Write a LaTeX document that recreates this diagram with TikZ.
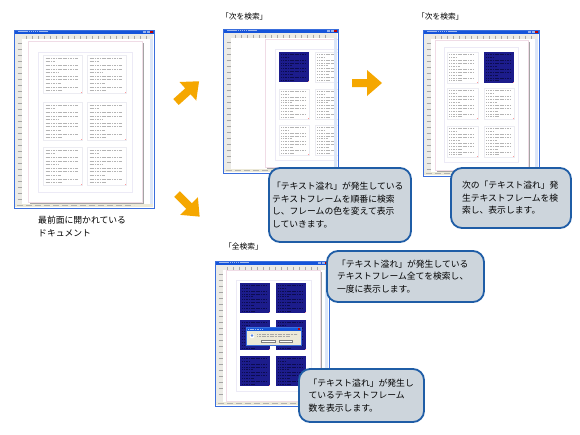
\documentclass[tikz,border=0pt]{standalone}
\usepackage{fontspec}
\setmainfont{Noto Sans CJK JP}
\usetikzlibrary{calc}
\definecolor{arroworange}{HTML}{F5A700}
\definecolor{calfill}{HTML}{CDD5DC}
\definecolor{calborder}{HTML}{1F5DA6}
\definecolor{navyfr}{HTML}{1C1C8C}
\definecolor{navytext}{HTML}{0C0C50}
\definecolor{titlebar}{HTML}{1554DA}
\definecolor{winframe}{HTML}{3A6EDC}
\definecolor{rulerbg}{HTML}{ECEBE6}
\definecolor{statusbg}{HTML}{ECE9D8}
\definecolor{scrollbg}{HTML}{DCE6F8}
\definecolor{textgray}{HTML}{B4B4B4}
\definecolor{framegray}{HTML}{ECECF2}
\definecolor{marginlav}{HTML}{ECEAF6}
\definecolor{pageborder}{HTML}{F0DCE6}
\definecolor{pageshadow}{HTML}{A4A4A4}

\tikzset{
  callout/.style={draw=calborder, line width=1.8pt, fill=calfill, rounded corners=11pt,
    inner xsep=0pt, inner ysep=0pt, align=left, font=\fontsize{8.8}{12.6}\selectfont},
  shotlabel/.style={anchor=west, inner sep=0pt, font=\fontsize{7.7}{9}\selectfont},
  arrowshape/.style={fill=arroworange},
  tick/.style={draw=gray!70, line width=0.3pt},
}

% text frame: x1 y1 x2 y2 filled
\newcommand\tfr[5]{%
  \begin{scope}[shift={(#1,#2)}]
    \pgfmathsetmacro\myfw{#3-#1}%
    \pgfmathsetmacro\myfh{#4-#2}%
    \ifnum#5=1
      \fill[navyfr] (0,0) rectangle (\myfw,\myfh);
      \def\mylc{navytext}%
    \else
      \draw[framegray, line width=0.4pt] (0,0) rectangle (\myfw,\myfh);
      \def\mylc{textgray}%
    \fi
    \foreach \f/\l in {0.09/0.95,0.18/0.3,0.28/0.95,0.37/0.95,0.46/0.4,0.56/0.95,0.65/0.95,0.74/0.45,0.84/0.95,0.93/0.5}{
      \draw[line width=0.8pt, dash pattern=on 1.2pt off 0.5pt, draw=\mylc]
        ({0.07*\myfw},{\f*\myfh}) -- ({(0.07+0.86*\l)*\myfw},{\f*\myfh});
    }
    \fill[red!40] ({\myfw-1.3},{\myfh-1.3}) rectangle (\myfw,\myfh);
  \end{scope}}

% page: x1 y1 x2 y2 ; margin x1 y1 x2 y2
\newcommand\pg[8]{%
  \fill[pageshadow] ({#1+1.5},{#2+1.5}) rectangle ({#3+1.5},{#4+1.5});
  \fill[white] (#1,#2) rectangle (#3,#4);
  \draw[pageborder, line width=0.4pt] (#1,#2) rectangle (#3,#4);
  \draw[marginlav, line width=0.5pt] (#5,#6) rectangle (#7,#8);}

% window chrome
\newcommand\winfg[4]{%
  \begin{scope}[shift={(#1,#2)}]
    \pgfmathsetmacro\myww{#3-#1}%
    \pgfmathsetmacro\mywh{#4-#2}%
    \pgfmathsetmacro\mytx{\myww-8}%
    \pgfmathsetmacro\myty{\mywh-7}%
    \fill[rulerbg] (1,3.5) rectangle ({\myww-1},9);
    \fill[rulerbg] (1,9) rectangle (8,{\mywh-4});
    \foreach \t in {12,18,...,\mytx} \draw[tick] (\t,5.5) -- (\t,8.5);
    \foreach \t in {13,19,...,\myty} \draw[tick] (3.5,\t) -- (7.5,\t);
    \fill[scrollbg] ({\myww-4.5},9) rectangle ({\myww-1},{\mywh-4});
    \fill[statusbg] (1,{\mywh-4}) rectangle ({\myww-1},{\mywh-1});
    \draw[gray!60, line width=0.6pt, dash pattern=on 6pt off 3pt] (3,{\mywh-2.5}) -- ({\myww-20},{\mywh-2.5});
    \fill[titlebar] (0,0) rectangle (\myww,3.5);
    \draw[white!60!titlebar, line width=0.8pt, dash pattern=on 1.5pt off 0.6pt] (4,1.75) -- (34,1.75);
    \fill[red!75!black] ({\myww-3.8},0.6) rectangle ({\myww-0.8},2.9);
    \fill[white!55!titlebar] ({\myww-7.3},0.6) rectangle ({\myww-4.3},2.9);
    \fill[white!55!titlebar] ({\myww-10.8},0.6) rectangle ({\myww-7.8},2.9);
    \draw[winframe, line width=0.8pt] (0,0) rectangle (\myww,\mywh);
  \end{scope}}

\begin{document}
\begin{tikzpicture}[x=1pt,y=-1pt]
\fill[white] (0,0) rectangle (580,434);
\useasboundingbox (0,0) rectangle (580,434);

% ---------- screenshot 1 ----------
\fill[white] (14,30) rectangle (154,208);
\begin{scope}
  \clip (14,30) rectangle (154,208);
  \pg{28}{41}{142}{202}{38}{52}{132}{192}
  \foreach \ya/\yb in {55/93,102/140,147/185}{
    \tfr{43}{\ya}{82}{\yb}{0}
    \tfr{87}{\ya}{126}{\yb}{0}
  }
\end{scope}
\winfg{14}{30}{154}{208}
\node[anchor=west, align=left, inner sep=0pt, font=\fontsize{8.8}{13}\selectfont] (lab1) at (38,226.5) {最前面に開かれている\\ドキュメント};

% ---------- screenshot 2 ----------
\node[shotlabel] (lab2) at (221,16.7) {「次を検索」};
\fill[white] (223,29) rectangle (338,173);
\begin{scope}
  \clip (223,29) rectangle (338,173);
  \pg{265}{39}{350}{167}{275}{49}{350}{160}
  \foreach \ya/\yb in {52/82,89/119,125/155}{
    \tfr{315}{\ya}{345}{\yb}{0}
  }
  \tfr{279}{52}{309}{82}{1}
  \tfr{279}{89}{309}{119}{0}
  \tfr{279}{125}{309}{155}{0}
\end{scope}
\winfg{223}{29}{338}{173}

% ---------- screenshot 3 ----------
\node[shotlabel] (lab3) at (417,16.5) {「次を検索」};
\fill[white] (423,30) rectangle (539,176);
\begin{scope}
  \clip (423,30) rectangle (539,176);
  \pg{435}{40}{528}{170}{444}{47}{518}{162}
  \tfr{447}{52}{478}{83}{0}
  \tfr{484}{52}{514}{83}{1}
  \foreach \ya/\yb in {88/119,126/157}{
    \tfr{447}{\ya}{478}{\yb}{0}
    \tfr{484}{\ya}{514}{\yb}{0}
  }
\end{scope}
\winfg{423}{30}{539}{176}

% ---------- screenshot 4 ----------
\node[shotlabel] (lab4) at (224,246.7) {「全検索」};
\fill[white] (215,261) rectangle (329,406);
\begin{scope}
  \clip (215,261) rectangle (329,406);
  \pg{226}{270}{320}{401}{236}{280}{311}{391}
  \foreach \ya/\yb in {283/313,320/350,356/386}{
    \tfr{240}{\ya}{270}{\yb}{1}
    \tfr{276}{\ya}{306}{\yb}{1}
  }
  % dialog
  \fill[statusbg] (246,327) rectangle (301,345);
  \fill[titlebar] (246,327) rectangle (301,330.5);
  \draw[white!60!titlebar, line width=0.6pt, dash pattern=on 1.2pt off 0.5pt] (248,328.8) -- (262,328.8);
  \fill[red!75!black] (297.5,327.6) rectangle (300.2,330);
  \fill[white] (252,336) circle (2.3);
  \fill[titlebar!70] (252,335.5) circle (1.3);
  \draw[gray!70, line width=0.7pt, dash pattern=on 1.2pt off 0.4pt] (257,334) -- (297,334);
  \draw[gray!70, line width=0.7pt, dash pattern=on 1.2pt off 0.4pt] (257,336.5) -- (290,336.5);
  \fill[white] (261,339.8) rectangle (275,342.6);
  \draw[gray, line width=0.4pt] (261,339.8) rectangle (275,342.6);
  \fill[white] (279,339.8) rectangle (292,342.6);
  \draw[gray, line width=0.4pt] (279,339.8) rectangle (292,342.6);
  \draw[winframe, line width=0.5pt] (246,327) rectangle (301,345);
\end{scope}
\winfg{215}{261}{329}{406}

% ---------- arrows ----------
\begin{scope}[shift={(176,102)}, rotate=42]
  \fill[arrowshape] (0,-4) -- (16,-4) -- (16,-12.5) -- (31,0) -- (16,12.5) -- (16,4) -- (0,4) -- cycle;
\end{scope}
\begin{scope}[shift={(352,83)}]
  \fill[arrowshape] (0,-4) -- (15,-4) -- (15,-13) -- (30,0) -- (15,13) -- (15,4) -- (0,4) -- cycle;
\end{scope}
\begin{scope}[shift={(177,194)}, rotate=-45]
  \fill[arrowshape] (0,-4) -- (17,-4) -- (17,-12.5) -- (32,0) -- (17,12.5) -- (17,4) -- (0,4) -- cycle;
\end{scope}

% ---------- callouts ----------
\node[callout, minimum width=142, minimum height=74, text width=136] (c1) at (340,205)
  {「テキスト溢れ」が発生している\\テキストフレームを順番に検索\\し、フレームの色を変えて表示\\していきます。};
\node[callout, minimum width=120, minimum height=60, text width=98] (c2) at (511,198)
  {次の「テキスト溢れ」発\\生テキストフレームを検\\索し、表示します。};
\node[callout, minimum width=157, minimum height=51, text width=137] (c3) at (405.5,276.5)
  {「テキスト溢れ」が発生している\\テキストフレーム全てを検索し、\\一度に表示します。};
\node[callout, minimum width=125, minimum height=53, text width=106] (c4) at (361.5,395.5)
  {「テキスト溢れ」が発生し\\ているテキストフレーム\\数を表示します。};
\end{tikzpicture}
\end{document}
